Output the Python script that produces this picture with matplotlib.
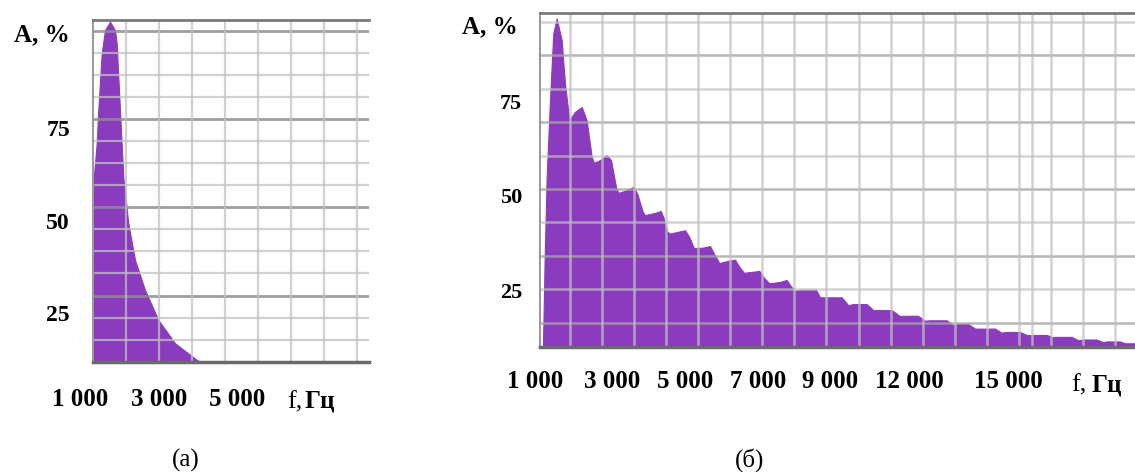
import numpy as np
import matplotlib
matplotlib.use("Agg")
import matplotlib.pyplot as plt
import matplotlib.transforms as mtransforms

# ---------------- data ----------------
# Panel (a): single spectral peak, frequency in Hz, amplitude in %
freq_a = [1318, 1413, 1453, 1540, 1624, 1752, 1879, 1922, 1963, 2006,
          2090, 2218, 2389, 2643, 2982, 3408, 3961, 4045]
amp_a = [59.2, 71.0, 79.9, 95.3, 101.6, 103.8, 101.6, 98.0, 88.9, 79.9,
         61.9, 49.3, 39.4, 31.3, 23.2, 16.9, 12.4, 11.9]

# Panel (б): decaying harmonic comb
freq_b = [1217, 1260, 1317, 1407, 1496, 1588, 1724, 1813, 1930, 2084,
          2266, 2401, 2537, 2599, 2762, 2943, 3060, 3195, 3257, 3485,
          3664, 3772, 3919, 3981, 4252, 4406, 4477, 4585, 4659, 4884,
          5065, 5182, 5309, 5561, 5743, 5851, 5995, 6238, 6420, 6537,
          6664, 6916, 7079, 7187, 7350, 7640, 7821, 7929, 8046, 8180,
          8615, 8724, 8859, 9311, 9490, 9618, 9989, 10168, 10260, 10667,
          10892, 10973, 11379, 11569, 11705, 12157, 12328, 12428, 12742, 12924,
          13060, 13466, 13648, 13737, 14144, 14325, 14415, 14867, 15046, 15138,
          15545, 15724, 15851, 16222, 16401, 16493, 16854, 16989, 17260]
amp_b = [10.0, 32.2, 55.1, 75.4, 93.1, 97.1, 91.3, 79.8, 70.1, 72.3,
         73.6, 70.1, 60.4, 58.8, 59.5, 60.8, 59.5, 52.4, 50.8, 51.5,
         52.4, 50.6, 45.8, 44.9, 45.5, 46.0, 44.4, 40.5, 40.0, 40.5,
         40.9, 39.1, 36.1, 36.3, 36.7, 34.7, 32.2, 32.8, 33.1, 31.2,
         29.6, 29.9, 30.1, 28.5, 26.8, 27.2, 27.7, 26.1, 24.8, 25.1,
         25.1, 23.1, 23.1, 23.1, 21.0, 21.3, 21.3, 19.7, 19.7, 19.7,
         18.1, 18.2, 18.2, 16.9, 17.0, 17.0, 15.7, 16.0, 16.0, 14.8,
         14.8, 14.8, 13.7, 13.9, 13.9, 13.1, 13.1, 13.1, 12.5, 12.6,
         12.6, 11.7, 11.9, 11.9, 11.2, 11.4, 11.4, 10.9, 10.9]

ytick_vals = [25, 50, 75]
ytick_labels = ["25", "50", "75"]

xlabels_a = ["1 000", "3 000", "5 000"]
xlabel_pos_a = [1000, 3000, 5000]
xlabels_b = ["1 000", "3 000", "5 000", "7 000", "9 000", "12 000", "15 000"]
xlabel_pos_b = [1000, 3100, 5080, 7060, 9000, 11140, 13820]

ylabel_text = "A, %"
unit_f = "f,"
unit_hz = "Гц"
panel_tags = ["(а)", "(б)"]

# ---------------- layout ----------------
W, H = 1135, 472
DPI = 100
SERIF = ["Liberation Serif", "DejaVu Serif"]
PURPLE = "#8a3bbe"

fig = plt.figure(figsize=(W / DPI, H / DPI), dpi=DPI)
fig.patch.set_facecolor("white")


def fx(px):
    return px / W


def fy(py):
    return 1 - py / H


def make_axes(l, t, r, b):
    return fig.add_axes([fx(l), fy(b), (r - l) / W, (b - t) / H])


ax_a = make_axes(93, 20, 369.3, 361.7)
ax_b = make_axes(540, 12.7, 1135, 346.7)

ax_a.set_xlim(1318.5, 8359)
ax_a.set_ylim(11.9, 104.3)
ax_b.set_xlim(1136.5, 17260)
ax_b.set_ylim(10.0, 98.6)

ax_a.fill_between(freq_a, ax_a.get_ylim()[0], amp_a, color=PURPLE, lw=0.8,
                  edgecolor=PURPLE, zorder=1)
ax_b.fill_between(freq_b, ax_b.get_ylim()[0], amp_b, color=PURPLE, lw=0.8,
                  edgecolor=PURPLE, zorder=1)

LIGHT = "#c2c2c2"
DARK = "#8e8e8e"

# grid (in axes fractions) drawn over the fill
h_a_px = [30.7 + 22.07 * k for k in range(15)]
h_a_dark = [0, 4, 8, 12]
for k, py in enumerate(h_a_px):
    f = (361.7 - py) / (361.7 - 20)
    dark = k in h_a_dark
    ax_a.hlines(f, 0, 1, transform=ax_a.transAxes,
                color=DARK if dark else LIGHT,
                alpha=0.85 if dark else 0.75, lw=2.0 if dark else 1.6, zorder=3)
for k in range(1, 9):
    f = 33 * k / 276.3
    ax_a.vlines(f, 0, 1, transform=ax_a.transAxes, color=LIGHT,
                alpha=0.75, lw=1.6, zorder=3)

h_b_px = [21.7 + 33.45 * k for k in range(10)]
for k, py in enumerate(h_b_px):
    f = (346.7 - py) / (346.7 - 12.7)
    dark = (k % 2 == 1)
    ax_b.hlines(f, 0, 1, transform=ax_b.transAxes,
                color="#a4a4a4" if dark else LIGHT,
                alpha=0.8 if dark else 0.7, lw=1.8, zorder=3)
v_b_px = [570 + 32.06 * k for k in range(18)] + [1031.5]
for px in v_b_px:
    f = (px - 540) / 595
    ax_b.vlines(f, 0, 1, transform=ax_b.transAxes, color=LIGHT,
                alpha=0.75, lw=1.8, zorder=3)

for ax, pad in ((ax_a, 16.6), (ax_b, 13.0)):
    ax.set_facecolor("white")
    ax.set_xticks([])
    ax.set_yticks(ytick_vals)
    ax.set_yticklabels(ytick_labels, family=SERIF, fontweight="bold",
                       fontsize=17 if ax is ax_a else 16)
    ax.tick_params(axis="y", length=0, pad=pad)
    ax.spines["right"].set_visible(False)
    ax.spines["left"].set_color("#9a9a9a")
    ax.spines["left"].set_linewidth(1.5)
    ax.spines["top"].set_color("#7a7a7a")
    ax.spines["top"].set_linewidth(2.0)
    ax.spines["bottom"].set_color("#6a6a6a")
    ax.spines["bottom"].set_linewidth(2.5)
    for s in ax.spines.values():
        s.set_zorder(4)

# x labels
tr_a = mtransforms.blended_transform_factory(ax_a.transData, fig.transFigure)
for pos, lab in zip(xlabel_pos_a, xlabels_a):
    ax_a.text(pos, fy(405.5), lab, transform=tr_a, ha="center", va="baseline",
              family=SERIF, fontweight="bold", fontsize=18, clip_on=False)
tr_b = mtransforms.blended_transform_factory(ax_b.transData, fig.transFigure)
for pos, lab in zip(xlabel_pos_b, xlabels_b):
    ax_b.text(pos, fy(388), lab, transform=tr_b, ha="center", va="baseline",
              family=SERIF, fontweight="bold", fontsize=18, clip_on=False)

# axis unit labels
fig.text(fx(287), fy(408), unit_f, family=SERIF, fontsize=19, va="baseline")
fig.text(fx(305), fy(408), unit_hz, family=SERIF, fontweight="bold",
         fontsize=18, va="baseline")
fig.text(fx(1071), fy(391), unit_f, family=SERIF, fontsize=19, va="baseline")
fig.text(fx(1092), fy(391), unit_hz, family=SERIF, fontweight="bold",
         fontsize=18, va="baseline")

fig.text(fx(69.3), fy(41.5), ylabel_text, family=SERIF, fontweight="bold",
         fontsize=18, ha="right", va="baseline")
fig.text(fx(518), fy(33.3), ylabel_text, family=SERIF, fontweight="bold",
         fontsize=18, ha="right", va="baseline")

# panel tags
fig.text(fx(185.7), fy(460), panel_tags[0], family=SERIF, fontsize=18,
         ha="center", va="center")
fig.text(fx(750), fy(460), panel_tags[1], family=SERIF, fontsize=18,
         ha="center", va="center")

fig.savefig("out.png", dpi=DPI)
